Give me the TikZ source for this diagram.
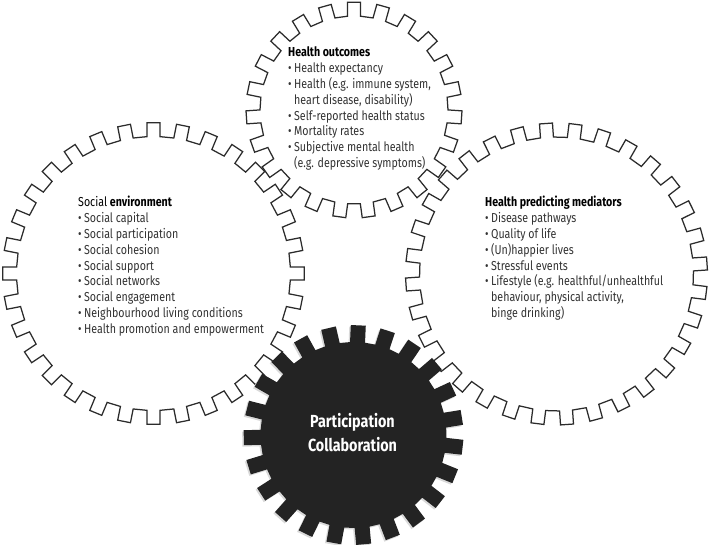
\documentclass[tikz,border=0pt]{standalone}
\usepackage{fontspec}
\setmainfont{Fira Sans}[FakeStretch=0.82]
\definecolor{ink}{HTML}{2B2B2B}
\definecolor{txt}{HTML}{333333}
\definecolor{darkgear}{HTML}{232323}
% #1 options, #2 cx, #3 cy, #4 teeth, #5 root radius, #6 tip radius, #7 phase, #8 tooth half width
\newcommand\drawgear[8]{%
  \pgfmathsetmacro\gai{asin(#8/#5)}%
  \pgfmathsetmacro\gao{asin(#8/#6)}%
  \pgfmathsetmacro\gstep{360/#4}%
  \pgfmathtruncatemacro\glast{#4-1}%
  \path[#1,shift={(#2,#3)}] ({#7-\gai}:#5)
    \foreach \k in {0,...,\glast}{
      -- ({#7+\k*\gstep-\gai}:#5) -- ({#7+\k*\gstep-\gao}:#6)
      -- ({#7+\k*\gstep+\gao}:#6) -- ({#7+\k*\gstep+\gai}:#5)
    } -- cycle;%
}
\begin{document}
\begin{tikzpicture}[x=1pt,y=1pt,
  gearline/.style={draw=ink, line width=1.25pt, line join=miter},
  bodytext/.style={anchor=base west, inner sep=0pt, text=txt,
    font=\fontsize{13}{15.8}\selectfont},
  geartext/.style={anchor=base, inner sep=0pt, text=white,
    font=\fontsize{17.5}{24}\selectfont\bfseries}]
\useasboundingbox (0,0) rectangle (709,545);
\fill[white] (0,0) rectangle (709,545);

% outline gears
\drawgear{gearline}{354}{435}{23}{94}{108}{90}{6.5}
\drawgear{gearline}{153.5}{271.5}{32}{137}{151}{90}{6.5}
\drawgear{gearline}{556.5}{271}{32}{137}{151}{94}{6.5}

% dark gear with faint shadow
\drawgear{fill=gray!30}{352}{108.5}{23}{93}{110}{87.5}{7.5}
\drawgear{fill=darkgear}{353.5}{110}{23}{93}{110}{87.5}{7.5}

% texts
\node[bodytext] (outcomes) at (288,488) {\begin{tabular}[t]{@{}l@{\hspace{2.5pt}}l@{}}
\multicolumn{2}{@{}l@{}}{\color{black}\bfseries Health outcomes}\\
\textbullet & Health expectancy\\
\textbullet & Health (e.g. immune system,\\
 & heart disease, disability)\\
\textbullet & Self-reported health status\\
\textbullet & Mortality rates\\
\textbullet & Subjective mental health\\
 & (e.g. depressive symptoms)
\end{tabular}};

\node[bodytext] (social) at (78,338) {\begin{tabular}[t]{@{}l@{\hspace{2.5pt}}l@{}}
\multicolumn{2}{@{}l@{}}{\color{black}Social \textbf{environment}}\\
\textbullet & Social capital\\
\textbullet & Social participation\\
\textbullet & Social cohesion\\
\textbullet & Social support\\
\textbullet & Social networks\\
\textbullet & Social engagement\\
\textbullet & Neighbourhood living conditions\\
\textbullet & Health promotion and empowerment
\end{tabular}};

\node[bodytext] (mediators) at (485,338) {\begin{tabular}[t]{@{}l@{\hspace{2.5pt}}l@{}}
\multicolumn{2}{@{}l@{}}{\color{black}\bfseries Health predicting mediators}\\
\textbullet & Disease pathways\\
\textbullet & Quality of life\\
\textbullet & (Un)happier lives\\
\textbullet & Stressful events\\
\textbullet & Lifestyle (e.g. healthful/unhealthful\\
 & behaviour, physical activity,\\
 & binge drinking)
\end{tabular}};

\node[geartext] (participation) at (352.5,117) {\begin{tabular}[t]{@{}c@{}}
Participation\\
Collaboration
\end{tabular}};
\end{tikzpicture}
\end{document}
